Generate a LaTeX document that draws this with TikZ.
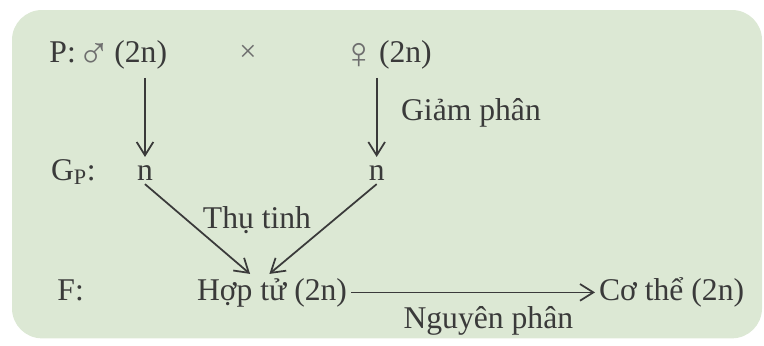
\documentclass[tikz,border=0pt]{standalone}
\usepackage{fontspec}
\setmainfont{Liberation Serif}
\usepackage{tikz}
\usetikzlibrary{arrows.meta,positioning,calc}
\definecolor{boxGreen}{HTML}{DCE8D4}
\definecolor{inkGrey}{HTML}{3A3A3A}
\definecolor{symGrey}{HTML}{6E6E6E}
\newcommand{\sexsym}[1]{\raisebox{-0.2cm}{\fontsize{38}{38}\selectfont\color{symGrey}#1}\hspace{3pt}}

\begin{document}
\begin{tikzpicture}[
  txt/.style={text=inkGrey, font=\fontsize{27}{32}\selectfont, anchor=base west},
  arr/.style={draw=inkGrey, line width=1.5pt, -{Straight Barb[length=4mm,width=5mm]}}]
  \useasboundingbox (0,0) rectangle (22.92,10.35);
  \fill[boxGreen, rounded corners=0.9cm] (0.36,0.2) rectangle (22.86,10.05);
  % P generation
  \node[txt] (plab) at (1.36,8.49) {P:};
  \node[txt] (pm) at (2.2,8.49) {\sexsym{♂}(2n)};
  \node[txt, anchor=center, text=symGrey, font=\fontsize{26}{26}\selectfont] (cross) at (7.44,8.74) {×};
  \node[txt] (pf) at (10.14,8.49) {\sexsym{♀}(2n)};
  % gametes
  \node[txt] (glab) at (1.41,4.95) {G\textsubscript{P}:};
  \node[txt, anchor=base] (gm) at (4.35,4.95) {n};
  \node[txt, anchor=base] (gf) at (11.3,4.95) {n};
  \draw[arr, shorten <=0.15cm, shorten >=0.12cm] (pm.south -| gm) -- (gm.north);
  \draw[arr, shorten <=0.15cm, shorten >=0.12cm] (pm.south -| gf) -- (gf.north);
  \node[txt] (giam) at (11.91,6.75) {Giảm phân};
  % F generation
  \node[txt] (flab) at (1.6,1.35) {F:};
  \node[txt] (hz) at (5.79,1.35) {Hợp tử (2n)};
  \node[txt] (ct) at (17.85,1.35) {Cơ thể (2n)};
  \draw[arr] (gm.south) -- ([xshift=-0.66cm]hz.north);
  \draw[arr] (gf.south) -- ([xshift=-0.08cm]hz.north);
  \node[txt, anchor=base] (fert) at (7.71,3.51) {Thụ tinh};
  \draw[arr] (hz.east) -- (hz.east -| ct.west);
  \node[txt, anchor=base] (nguyen) at (14.65,0.5) {Nguyên phân};
\end{tikzpicture}
\end{document}
